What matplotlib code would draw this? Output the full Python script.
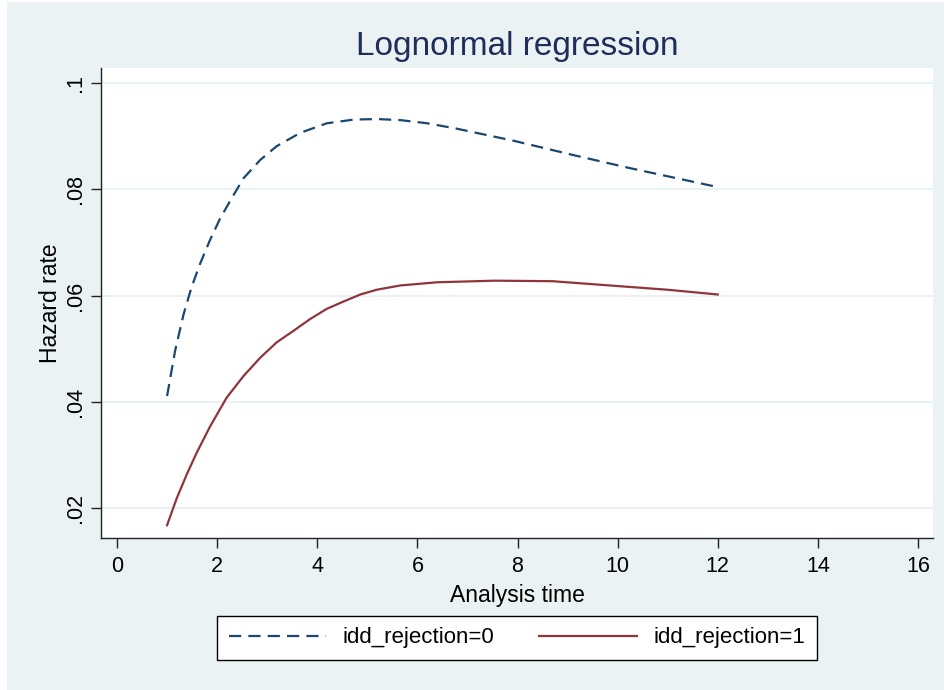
import matplotlib
matplotlib.use("Agg")
import matplotlib.pyplot as plt
from matplotlib.patches import Rectangle
from matplotlib.ticker import FuncFormatter

# --- DATA ---
t_rej0 = [1.0, 1.16, 1.33, 1.49, 1.66, 1.86, 2.06, 2.29, 2.53, 2.86, 3.19,
          3.66, 4.19, 4.73, 5.19, 5.66, 6.2, 6.78, 7.93, 9.08, 10.23, 12.0]
h_rej0 = [0.0411, 0.0496, 0.0565, 0.0616, 0.0660, 0.0705, 0.0745, 0.0783,
          0.0821, 0.0855, 0.0881, 0.0906, 0.0924, 0.0931, 0.0932, 0.0930,
          0.0924, 0.0914, 0.0891, 0.0865, 0.0840, 0.0804]

t_rej1 = [1.0, 1.19, 1.39, 1.59, 1.86, 2.19, 2.53, 2.86, 3.19, 3.53, 3.86,
          4.19, 4.53, 4.86, 5.19, 5.66, 6.4, 7.55, 8.7, 9.84, 10.99, 12.0]
h_rej1 = [0.0168, 0.0218, 0.0263, 0.0304, 0.0354, 0.0408, 0.0449, 0.0483,
          0.0512, 0.0534, 0.0556, 0.0575, 0.0589, 0.0602, 0.0611, 0.0619,
          0.0625, 0.0628, 0.0627, 0.0619, 0.0611, 0.0602]

x_ticks = [0, 2, 4, 6, 8, 10, 12, 14, 16]
y_ticks = [0.02, 0.04, 0.06, 0.08, 0.1]
labels = ["idd_rejection=0", "idd_rejection=1"]

# --- STYLE ---
bg = "#EAF2F3"
navy = "#1A476F"
maroon = "#90353B"
plt.rcParams["font.family"] = ["Liberation Sans", "DejaVu Sans"]

W, H = 944, 690
fig = plt.figure(figsize=(W / 100, H / 100), dpi=100, facecolor="white")
fig.patches.append(Rectangle((7 / W, 0), 1 - 7 / W, 1 - 2 / H,
                             transform=fig.transFigure, facecolor=bg,
                             edgecolor="none", zorder=-10))

ax = fig.add_axes([101 / W, 1 - 538 / H, (933 - 101) / W, (538 - 68) / H])
ax.set_facecolor("white")

ax.plot(t_rej0, h_rej0, color=navy, lw=1.6, dashes=(5.5, 3.2), label=labels[0])
ax.plot(t_rej1, h_rej1, color=maroon, lw=1.6, label=labels[1])

ax.set_xlim(-0.32, 16.3)
ax.set_ylim(0.0144, 0.1028)
ax.set_xticks(x_ticks)
ax.set_yticks(y_ticks)
ax.yaxis.set_major_formatter(FuncFormatter(lambda v, p: ("%g" % v).lstrip("0")))

ax.grid(axis="y", color=bg, lw=1.5)
ax.set_axisbelow(True)
for s in ["top", "right"]:
    ax.spines[s].set_visible(False)
for s in ["left", "bottom"]:
    ax.spines[s].set_color("#222222")
    ax.spines[s].set_linewidth(1.0)

ax.tick_params(axis="both", direction="out", length=7, width=1.0,
               color="#222222", labelsize=15.5, labelcolor="black")
ax.tick_params(axis="y", labelrotation=90, pad=4)
for lab in ax.get_yticklabels():
    lab.set_verticalalignment("center")
ax.tick_params(axis="x", pad=6)

ax.set_xlabel("Analysis time", fontsize=16.5, labelpad=5)
ax.set_ylabel("Hazard rate", fontsize=16.5, labelpad=2)
fig.text(517 / W, 1 - 46 / H, "Lognormal regression", ha="center", va="center",
         fontsize=24, color="#1E2D5A")

leg = fig.legend(loc="center", bbox_to_anchor=(517 / W, 1 - 638 / H), ncol=2,
                 fontsize=16, frameon=True, fancybox=False, framealpha=1,
                 edgecolor="black", facecolor="white", handlelength=4.4,
                 handletextpad=0.75, columnspacing=2.0, borderpad=0.5,
                 borderaxespad=0)
leg.get_frame().set_linewidth(1.0)

fig.savefig("out.png", dpi=100, facecolor=fig.get_facecolor())
